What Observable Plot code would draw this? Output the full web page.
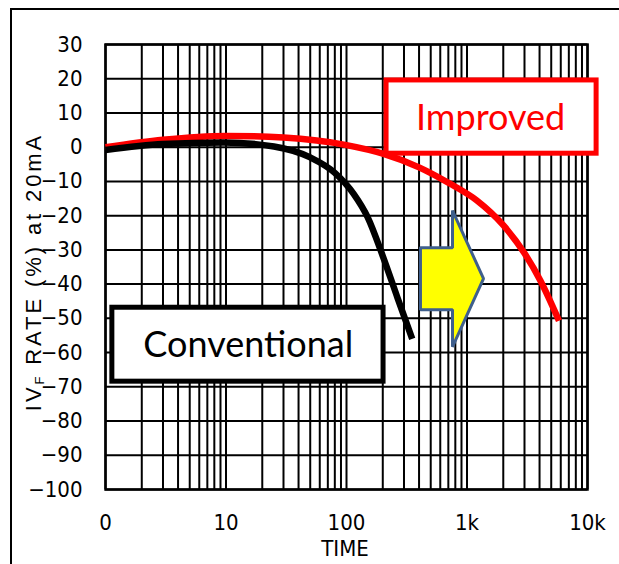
<!DOCTYPE html>
<html><head><meta charset="utf-8">
<script src="https://cdn.jsdelivr.net/npm/d3@7"></script>
<script src="https://cdn.jsdelivr.net/npm/@observablehq/plot@0.6"></script>
<style>
body{margin:0;background:#fff;}
#chart{position:relative;width:619px;height:564px;overflow:hidden;}
</style>
</head><body>
<div id="chart"></div>
<script>
// Data
const convTime = [1, 3, 9.5, 25, 50, 80, 115, 150, 200, 265, 351];
const convRate = [-0.8, 0.9, 1.4, 0.2, -3, -7.5, -13.7, -20.5, -31.8, -44, -56];
const impTime = [1, 3, 10, 30, 100, 200, 400, 700, 1200, 2000, 3000, 4070, 5800];
const impRate = [0, 2.2, 3.3, 2.8, 0.6, -1.9, -5.9, -10.4, -15.5, -22.8, -31, -39, -50.7];

const xTicks = [1, 10, 100, 1000, 10000];
const xTickLabels = ["0", "10", "100", "1k", "10k"];
const yTicks = d3.range(-100, 31, 10);
const xGrid = [1, 10, 100, 1000].flatMap(d => d3.range(1, 10).map(k => d * k)).concat([10000]);

// Annotations (data coordinates)
const improvedBox = {x1: 215, x2: 11900, y1: -1.9, y2: 19.5, cx: 1570, cy: 8.3, label: "Improved"};
const convBox = {x1: 1.14, x2: 203, y1: -68.5, y2: -46.9, cx: 15.3, cy: -58, label: "Conventional"};
const arrowX = [411, 758, 758, 1371, 758, 758, 411, 411];
const arrowY = [-29.4, -29.4, -18.5, -38.4, -58.3, -47.5, -47.5, -29.4];

const conv = convTime.map((t, i) => ({t, r: convRate[i]}));
const imp = impTime.map((t, i) => ({t, r: impRate[i]}));
const arrow = arrowX.map((x, i) => ({x, y: arrowY[i]}));

const W = 619, H = 564;
const plot = Plot.plot({
  width: W, height: H,
  marginLeft: 105, marginRight: 32, marginTop: 44, marginBottom: 75,
  style: {fontFamily: "'Liberation Sans Narrow','DejaVu Sans Condensed',Arial,sans-serif", fontSize: "22px", color: "#000", background: "#fff"},
  x: {type: "log", domain: [1, 10000]},
  y: {domain: [-100, 30]},
  marks: [
    Plot.ruleX(xGrid, {stroke: "#000", strokeWidth: 2}),
    Plot.ruleY(yTicks, {stroke: "#000", strokeWidth: 2}),
    Plot.frame({stroke: "#000", strokeWidth: 2.5}),
    Plot.axisX({ticks: xTicks, tickFormat: (d) => xTickLabels[xTicks.indexOf(d)], tickSize: 0, tickPadding: 25, label: null, fill: "#000"}),
    Plot.axisY({ticks: yTicks, tickSize: 0, tickPadding: 23, label: null, fill: "#000"}),
    Plot.line(imp, {x: "t", y: "r", stroke: "#ff0000", strokeWidth: 6.5, curve: "monotone-x", strokeLinecap: "butt"}),
    Plot.line(conv, {x: "t", y: "r", stroke: "#000", strokeWidth: 6.5, curve: "monotone-x", strokeLinecap: "butt"}),
    Plot.rect([improvedBox], {x1: "x1", x2: "x2", y1: "y1", y2: "y2", fill: "#fff", stroke: "#ff0000", strokeWidth: 5}),
    Plot.text([improvedBox], {x: "cx", y: "cy", text: "label", fill: "#ff0000", fontSize: 36, fontFamily: "Lato, 'Open Sans', sans-serif"}),
    Plot.rect([convBox], {x1: "x1", x2: "x2", y1: "y1", y2: "y2", fill: "#fff", stroke: "#000", strokeWidth: 5}),
    Plot.text([convBox], {x: "cx", y: "cy", text: "label", fill: "#000", fontSize: 36, fontFamily: "Lato, 'Open Sans', sans-serif"}),
    Plot.line(arrow, {x: "x", y: "y", fill: "#ffff00", stroke: "#3f5f8c", strokeWidth: 3, strokeLinejoin: "miter"})
  ]
});
document.getElementById("chart").appendChild(plot);

const svg = d3.select(plot);
svg.style("overflow", "hidden");
// outer frame (cropped)
svg.insert("rect", ":first-child")
  .attr("x", 11).attr("y", 9).attr("width", 800).attr("height", 800)
  .attr("fill", "none").attr("stroke", "#000").attr("stroke-width", 2);
// y axis title
const yl = svg.append("text")
  .attr("transform", "translate(35,272) rotate(-90)")
  .attr("text-anchor", "middle").attr("dominant-baseline", "middle")
  .attr("font-family", "'Liberation Sans',Arial,sans-serif")
  .attr("letter-spacing", 2.9)
  .attr("font-size", 22).attr("fill", "#000");
yl.append("tspan").text("IV");
yl.append("tspan").attr("font-size", 13).attr("dy", 6).text("F");
yl.append("tspan").attr("dy", -6).text(" RATE (%) at 20mA");
// x axis title
svg.append("text")
  .attr("x", 345).attr("y", 556)
  .attr("text-anchor", "middle")
  .attr("font-size", 22).attr("fill", "#000")
  .text("TIME");
</script>
</body></html>
